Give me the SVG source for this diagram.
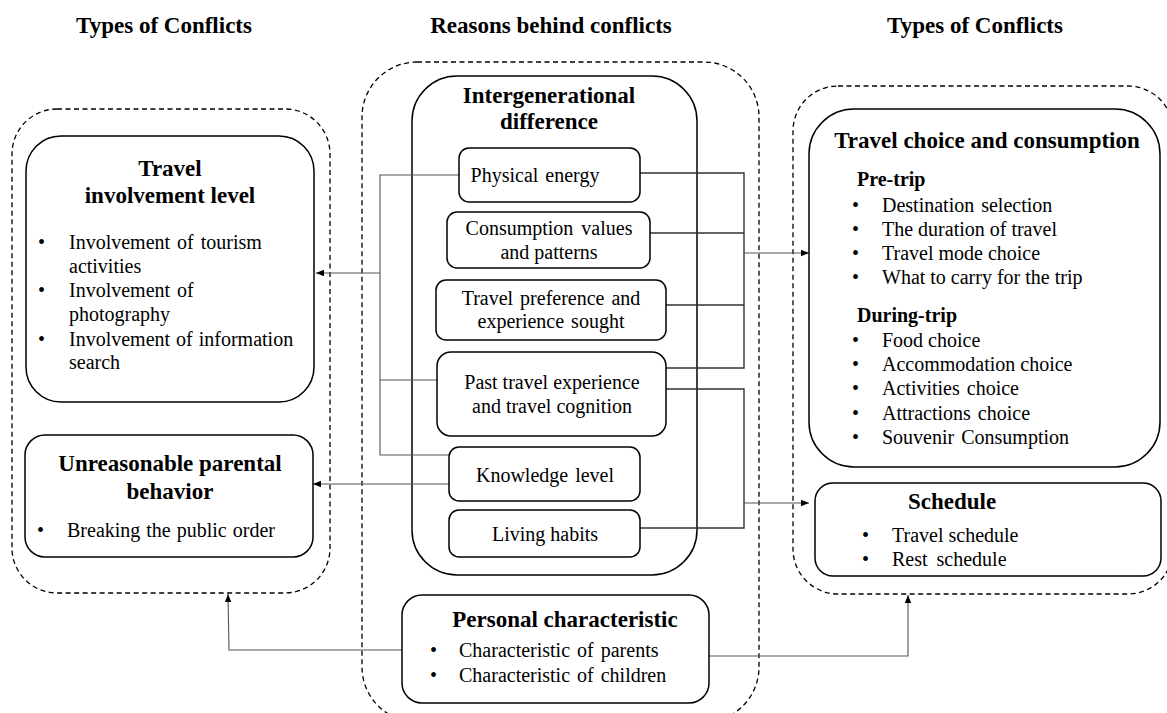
<svg xmlns="http://www.w3.org/2000/svg" width="1167" height="713" viewBox="0 0 1167 713">
<defs>
<style>
.box{fill:#fff;stroke:#000;stroke-width:1.5}
.dash{fill:none;stroke:#000;stroke-width:1.3;stroke-dasharray:5,3.5}
.ln{fill:none;stroke:#333;stroke-width:1.4}
.lnt{fill:none;stroke:#555;stroke-width:1.1}
text{font-family:"Liberation Serif","Times New Roman",serif;fill:#000}
.h{font-size:23px;font-weight:bold;text-anchor:middle}
.t{font-size:23px;font-weight:bold;text-anchor:middle}
.s{font-size:20px;font-weight:bold}
.b{font-size:20px}
.c{font-size:20px;text-anchor:middle}
</style>
<marker id="ah" viewBox="0 0 10 10" refX="10" refY="5" markerWidth="8" markerHeight="8" markerUnits="userSpaceOnUse" orient="auto">
<path d="M0,1 L10,5 L0,9 z" fill="#000"/>
</marker>
</defs>
<rect width="1167" height="713" fill="#fff"/>

<g id="headers">
<text class="h" x="164" y="33">Types of Conflicts</text>
<text class="h" x="551" y="33">Reasons behind conflicts</text>
<text class="h" x="975" y="33">Types of Conflicts</text>
</g>

<g id="containers">
<rect class="dash" x="12" y="109" width="318" height="484" rx="45"/>
<rect class="dash" x="362" y="62" width="397" height="660" rx="55"/>
<rect class="dash" x="793" y="86" width="380" height="508" rx="45"/>
</g>

<g id="intergenerational">
<rect class="box" x="412" y="76" width="285" height="499" rx="45"/>
<text class="t" x="549" y="103">Intergenerational</text>
<text class="t" x="549" y="129">difference</text>
</g>

<g id="connectors">
<polyline class="lnt" points="459,175 380,175 380,455 449,455"/>
<line class="lnt" x1="380" y1="380" x2="437" y2="380"/>
<line class="lnt" x1="380" y1="273" x2="316" y2="273" marker-end="url(#ah)"/>
<line class="lnt" x1="449" y1="484" x2="313" y2="484" marker-end="url(#ah)"/>
<polyline class="lnt" points="402,650 229,650 228,594" marker-end="url(#ah)"/>
<polyline class="ln" points="640,173 744,173 744,368 666,368"/>
<line class="ln" x1="650" y1="233" x2="744" y2="233"/>
<line class="ln" x1="666" y1="305" x2="744" y2="305"/>
<line class="lnt" x1="744" y1="253" x2="809" y2="253" marker-end="url(#ah)"/>
<polyline class="ln" points="666,389 744,389 744,528 640,528"/>
<line class="lnt" x1="744" y1="503" x2="809" y2="503" marker-end="url(#ah)"/>
<polyline class="lnt" points="709,656 908,656 908,595" marker-end="url(#ah)"/>
</g>

<g id="travel-involvement">
<rect class="box" x="26" y="136" width="288" height="266" rx="35"/>
<text class="t" x="170" y="176">Travel</text>
<text class="t" x="170" y="203">involvement level</text>
<text class="b" x="38" y="249">•</text>
<text class="b" x="69" y="249" word-spacing="2">Involvement of tourism</text>
<text class="b" x="69" y="273">activities</text>
<text class="b" x="38" y="297">•</text>
<text class="b" x="69" y="297" word-spacing="2">Involvement of</text>
<text class="b" x="69" y="321">photography</text>
<text class="b" x="38" y="346">•</text>
<text class="b" x="69" y="346" word-spacing="1">Involvement of information</text>
<text class="b" x="69" y="369">search</text>
</g>

<g id="unreasonable">
<rect class="box" x="25" y="435" width="288" height="122" rx="20"/>
<text class="t" x="170" y="471">Unreasonable parental</text>
<text class="t" x="170" y="499">behavior</text>
<text class="b" x="37" y="537">•</text>
<text class="b" x="67" y="537" word-spacing="1">Breaking the public order</text>
</g>

<g id="physical-energy">
<rect class="box" x="459" y="148" width="181" height="54" rx="10"/>
<text class="c" x="535" y="182" word-spacing="2">Physical energy</text>
</g>

<g id="consumption">
<rect class="box" x="447" y="212" width="203" height="56" rx="10"/>
<text class="c" x="549" y="235" word-spacing="3">Consumption values</text>
<text class="c" x="549" y="259">and patterns</text>
</g>

<g id="travel-preference">
<rect class="box" x="436" y="280" width="230" height="60" rx="10"/>
<text class="c" x="551" y="305" word-spacing="2">Travel preference and</text>
<text class="c" x="551" y="328" word-spacing="2">experience sought</text>
</g>

<g id="past-travel">
<rect class="box" x="437" y="352" width="229" height="84" rx="14"/>
<text class="c" x="552" y="389">Past travel experience</text>
<text class="c" x="552" y="413">and travel cognition</text>
</g>

<g id="knowledge">
<rect class="box" x="449" y="447" width="191" height="54" rx="10"/>
<text class="c" x="545" y="482" word-spacing="2">Knowledge level</text>
</g>

<g id="living-habits">
<rect class="box" x="449" y="510" width="191" height="47" rx="10"/>
<text class="c" x="545" y="541">Living habits</text>
</g>

<g id="personal">
<rect class="box" x="402" y="595" width="307" height="108" rx="20"/>
<text class="t" x="565" y="627">Personal characteristic</text>
<text class="b" x="430" y="657">•</text>
<text class="b" x="459" y="657" word-spacing="2">Characteristic of parents</text>
<text class="b" x="430" y="682">•</text>
<text class="b" x="459" y="682" word-spacing="2">Characteristic of children</text>
</g>

<g id="travel-choice">
<rect class="box" x="809" y="109" width="351" height="358" rx="45"/>
<text class="t" x="987" y="148">Travel choice and consumption</text>
<text class="s" x="857" y="186">Pre-trip</text>
<text class="b" x="852" y="212">•</text>
<text class="b" x="882" y="212" word-spacing="2">Destination selection</text>
<text class="b" x="852" y="236">•</text>
<text class="b" x="882" y="236">The duration of travel</text>
<text class="b" x="852" y="260">•</text>
<text class="b" x="882" y="260">Travel mode choice</text>
<text class="b" x="852" y="284">•</text>
<text class="b" x="882" y="284">What to carry for the trip</text>
<text class="s" x="857" y="322">During-trip</text>
<text class="b" x="852" y="347">•</text>
<text class="b" x="882" y="347">Food choice</text>
<text class="b" x="852" y="371">•</text>
<text class="b" x="882" y="371">Accommodation choice</text>
<text class="b" x="852" y="395">•</text>
<text class="b" x="882" y="395" word-spacing="2">Activities choice</text>
<text class="b" x="852" y="420">•</text>
<text class="b" x="882" y="420" word-spacing="2">Attractions choice</text>
<text class="b" x="852" y="444">•</text>
<text class="b" x="882" y="444" word-spacing="2">Souvenir Consumption</text>
</g>

<g id="schedule">
<rect class="box" x="815" y="483" width="346" height="93" rx="18"/>
<text class="t" x="952" y="509">Schedule</text>
<text class="b" x="862" y="542">•</text>
<text class="b" x="892" y="542">Travel schedule</text>
<text class="b" x="862" y="566">•</text>
<text class="b" x="892" y="566" word-spacing="4">Rest schedule</text>
</g>
</svg>
